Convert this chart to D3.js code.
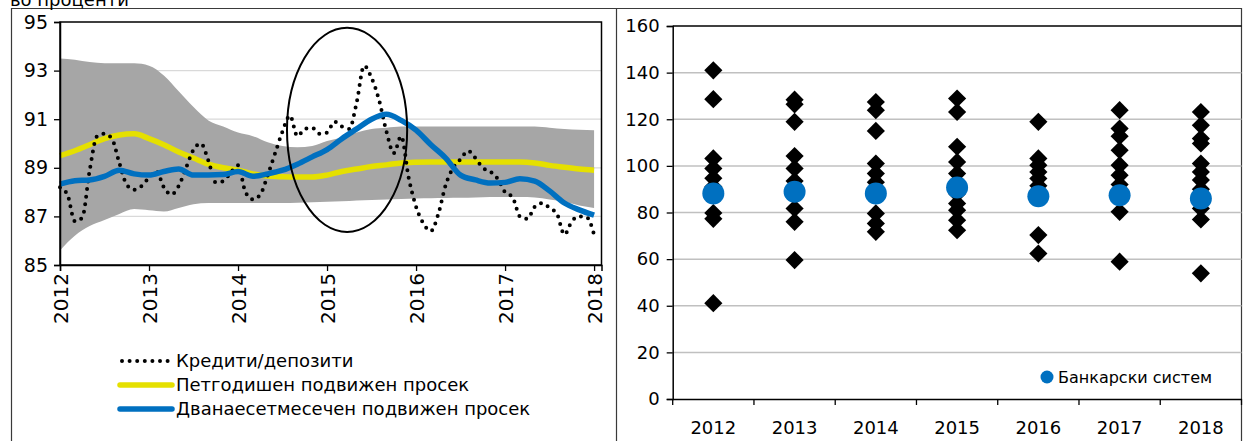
<!DOCTYPE html>
<html><head><meta charset="utf-8">
<script src="https://cdn.jsdelivr.net/npm/d3@7"></script>
<style>body{margin:0;background:#fff}svg{display:block;font-family:"DejaVu Sans",Verdana,sans-serif}</style>
</head><body>
<script>
// ---------- Left chart data (monthly, month index 0 = Jan 2012) ----------
const loanDeposit = [88.2,87.9,86.8,86.95,88.9,90.3,90.4,90.2,89.2,88.3,88.1,88.25,88.6,88.85,88.2,87.9,88.25,89.0,89.75,90.0,89.3,88.4,88.45,88.8,89.1,88.0,87.7,87.9,88.7,89.6,90.5,91.15,90.3,90.6,90.65,90.4,90.45,90.9,90.7,90.6,91.7,93.2,92.7,91.8,90.5,89.6,90.3,88.6,87.4,86.7,86.4,87.1,88.3,89.0,89.35,89.7,89.4,89.0,88.85,88.55,88.0,87.8,87.0,86.9,87.4,87.55,87.35,87.1,86.25,86.8,87.0,86.97,86.25];
// smooth series sampled every two months
const smoothMonths = [0,2,4,6,8,10,12,14,16,18,20,22,24,26,28,30,32,34,36,38,40,42,44,46,48,50,52,54,56,58,60,62,64,66,68,70,72];
const fiveYearAvg = [89.5,89.7,89.95,90.2,90.35,90.4,90.2,89.95,89.65,89.4,89.15,89.0,88.9,88.75,88.66,88.63,88.62,88.62,88.7,88.85,88.95,89.05,89.12,89.2,89.23,89.24,89.24,89.24,89.24,89.24,89.24,89.24,89.2,89.1,89.02,88.95,88.9];
const twelveMonthAvg = [88.33,88.47,88.5,88.65,88.9,88.75,88.7,88.85,88.95,88.7,88.7,88.72,88.85,88.65,88.75,88.9,89.15,89.45,89.75,90.2,90.6,91.0,91.2,90.95,90.55,89.95,89.4,88.7,88.5,88.37,88.4,88.55,88.45,88.05,87.55,87.27,87.05];
const bandUpper = [93.5,93.45,93.35,93.3,93.3,93.3,93.2,92.8,92.15,91.5,90.95,90.7,90.45,90.3,90.05,89.9,89.85,89.9,90.1,90.25,90.45,90.6,90.65,90.7,90.7,90.7,90.7,90.7,90.7,90.7,90.7,90.7,90.7,90.65,90.6,90.57,90.55];
const bandLower = [85.6,86.2,86.6,86.85,87.1,87.3,87.25,87.2,87.35,87.5,87.55,87.55,87.55,87.55,87.55,87.55,87.56,87.58,87.6,87.62,87.65,87.68,87.7,87.72,87.74,87.75,87.76,87.77,87.78,87.8,87.8,87.8,87.78,87.7,87.6,87.45,87.35];
const leftYTicks = [85,87,89,91,93,95];
const leftYearTicks = [2012,2013,2014,2015,2016,2017,2018];
const legendLabels = ["Кредити/депозити","Петгодишен подвижен просек","Дванаесетмесечен подвижен просек"];
const unitLabel = "во проценти";
// highlighted period (ellipse): centre month, centre value, half-width months, half-height value
const highlight = {month:38.7, value:90.56, rMonths:8.1, rValue:4.2};

// ---------- Right chart data ----------
const years = ["2012","2013","2014","2015","2016","2017","2018"];
const bankValues = {
  "2012":[141,128.6,103.2,98.9,94.7,91,88,79.8,77.3,41.1],
  "2013":[128.4,126.4,118.9,104.2,98.9,93.5,88,81.7,76,59.6],
  "2014":[127.4,123.9,115,101,96.7,93,89,79.6,75.3,71.7],
  "2015":[128.9,123.1,108.2,101.7,96.7,93,88,83.9,81,76.7,72.4],
  "2016":[118.9,103.2,100.3,97.4,94.6,91.5,88.5,70.3,62.4],
  "2017":[123.9,116,112.7,106.7,100.3,96,92,88,80.3,58.9],
  "2018":[123.1,117.4,111.7,109.6,101,97.4,93.9,90,81.7,77,53.9]
};
const systemValues = [88.2,88.9,88.2,90.7,87.0,87.4,86.0];
const rightYTicks = [0,20,40,60,80,100,120,140,160];
const rightLegend = "Банкарски систем";

const W=1243,H=441;
const svg=d3.select("body").append("svg").attr("width",W).attr("height",H);

// panel frames
const frame=svg.append("g").attr("stroke","#3a3a3a").attr("stroke-width",1.2).attr("fill","none");
frame.append("line").attr("x1",11).attr("x2",1242).attr("y1",8.5).attr("y2",8.5);
frame.append("line").attr("x1",11.5).attr("x2",11.5).attr("y1",8).attr("y2",H);
frame.append("line").attr("x1",616.5).attr("x2",616.5).attr("y1",8).attr("y2",H);
frame.append("line").attr("x1",1241.5).attr("x2",1241.5).attr("y1",8).attr("y2",H);

svg.append("text").attr("x",10).attr("y",6).attr("font-size",18).attr("fill","#000").text(unitLabel);

// ---------- LEFT ----------
const L={l:60,r:601.5,t:22,b:265};
const x=d3.scaleLinear().domain([0,73]).range([L.l,L.r]);
const y=d3.scaleLinear().domain([85,95]).range([L.b,L.t]);
const gL=svg.append("g");
gL.append("g").selectAll("line").data(leftYTicks.filter(v=>v>85&&v<95)).join("line")
  .attr("x1",L.l).attr("x2",L.r).attr("y1",d=>y(d)).attr("y2",d=>y(d))
  .attr("stroke","#d9d9d9").attr("stroke-width",1.3);

const bandData=smoothMonths.map((m,i)=>({m,u:bandUpper[i],l:bandLower[i]}));
gL.append("path").datum(bandData)
  .attr("d",d3.area().x(d=>x(d.m)).y0(d=>y(d.l)).y1(d=>y(d.u)).curve(d3.curveMonotoneX))
  .attr("fill","#a6a6a6");

const lineGen=d3.line().x(d=>x(d[0])).y(d=>y(d[1])).curve(d3.curveMonotoneX);
gL.append("path").datum(smoothMonths.map((m,i)=>[m,fiveYearAvg[i]]))
  .attr("d",lineGen).attr("fill","none").attr("stroke","#e5e000").attr("stroke-width",5.5);
gL.append("path").datum(loanDeposit.map((v,i)=>[i,v]))
  .attr("d",lineGen).attr("fill","none").attr("stroke","#000").attr("stroke-width",4)
  .attr("stroke-linecap","round").attr("stroke-dasharray","0 7.6");
gL.append("path").datum(smoothMonths.map((m,i)=>[m,twelveMonthAvg[i]]))
  .attr("d",lineGen).attr("fill","none").attr("stroke","#0070c0").attr("stroke-width",5.5);

// ellipse annotation
gL.append("ellipse")
  .attr("cx",x(highlight.month)).attr("cy",y(highlight.value))
  .attr("rx",x(highlight.month+highlight.rMonths)-x(highlight.month))
  .attr("ry",y(highlight.value-highlight.rValue)-y(highlight.value))
  .attr("fill","none").attr("stroke","#000").attr("stroke-width",2);

// plot frame
gL.append("rect").attr("x",L.l).attr("y",L.t).attr("width",L.r-L.l).attr("height",L.b-L.t)
  .attr("fill","none").attr("stroke","#000").attr("stroke-width",1.5);

const yAxL=gL.append("g").attr("transform",`translate(${L.l},0)`)
  .call(d3.axisLeft(y).tickValues(leftYTicks).tickSize(6).tickPadding(6).tickFormat(d3.format("d")));
const xAxL=gL.append("g").attr("transform",`translate(0,${L.b})`)
  .call(d3.axisBottom(x).tickValues(leftYearTicks.map(d=>(d-2012)*12)).tickSize(6).tickFormat((d,i)=>leftYearTicks[i]));
[yAxL,xAxL].forEach(a=>{a.select(".domain").attr("stroke","#000").attr("stroke-width",1.5);
  a.selectAll(".tick line").attr("stroke","#000").attr("stroke-width",1.3);
  a.selectAll("text").attr("font-size",19).attr("fill","#000").attr("font-family","DejaVu Sans");});
xAxL.selectAll(".tick text").attr("font-size",20).attr("transform","rotate(-90)").attr("text-anchor","end")
  .attr("x",-8).attr("y",0).attr("dy","0.36em");

// legend
const lg=svg.append("g").attr("transform","translate(120,361)");
const legendItems=[
  {stroke:"#000",w:4,dash:"0 7.6"},
  {stroke:"#e5e000",w:5.5,dash:null},
  {stroke:"#0070c0",w:5.5,dash:null}];
legendItems.forEach((it,i)=>{
  const g=lg.append("g").attr("transform",`translate(0,${i*24})`);
  g.append("line").attr("x1",i===0?2:0).attr("x2",52).attr("y1",0).attr("y2",0)
   .attr("stroke",it.stroke).attr("stroke-width",it.w).attr("stroke-linecap","round")
   .attr("stroke-dasharray",it.dash);
  g.append("text").attr("x",56).attr("y",0).attr("dy","0.35em").attr("font-size",18).text(legendLabels[i]);
});

// ---------- RIGHT ----------
const R={l:672.7,r:1241.5,t:26,b:399};
const xb=d3.scaleBand().domain(years).range([R.l,R.r]);
const yr=d3.scaleLinear().domain([0,160]).range([R.b,R.t]);
const gR=svg.append("g");
gR.append("g").selectAll("line").data(rightYTicks.filter(v=>v>0&&v<160)).join("line")
  .attr("x1",R.l).attr("x2",R.r).attr("y1",d=>yr(d)).attr("y2",d=>yr(d))
  .attr("stroke","#c0c0c0").attr("stroke-width",1.5);
gR.append("line").attr("x1",R.l).attr("x2",R.r).attr("y1",R.t).attr("y2",R.t).attr("stroke","#000").attr("stroke-width",1.5);

const diamond=d3.symbol().type(d3.symbolSquare).size(165);
const pts=[];years.forEach(yv=>bankValues[yv].forEach(v=>pts.push({yr:yv,v})));
gR.append("g").selectAll("path").data(pts).join("path")
  .attr("d",diamond)
  .attr("transform",d=>`translate(${xb(d.yr)+xb.bandwidth()/2},${yr(d.v)}) rotate(45)`)
  .attr("fill","#000");
gR.append("g").selectAll("circle").data(years).join("circle")
  .attr("cx",d=>xb(d)+xb.bandwidth()/2).attr("cy",(d,i)=>yr(systemValues[i])).attr("r",11)
  .attr("fill","#0070c0");

const yAxR=gR.append("g").attr("transform",`translate(${R.l},0)`)
  .call(d3.axisLeft(yr).tickValues(rightYTicks).tickSize(6).tickPadding(7));
const xAxR=gR.append("g").attr("transform",`translate(0,${R.b})`)
  .call(d3.axisBottom(xb).tickSize(0).tickPadding(22));
xAxR.append("g").selectAll("line").data(d3.range(years.length+1)).join("line")
  .attr("x1",i=>R.l+i*xb.step()).attr("x2",i=>R.l+i*xb.step()).attr("y1",0).attr("y2",6)
  .attr("stroke","#000").attr("stroke-width",1.3);
[yAxR,xAxR].forEach(a=>{a.select(".domain").attr("stroke","#000").attr("stroke-width",1.5);
  a.selectAll(".tick line").attr("stroke","#000").attr("stroke-width",1.3);
  a.selectAll("text").attr("font-size",18).attr("fill","#000").attr("font-family","DejaVu Sans");});

const rl=svg.append("g").attr("transform","translate(1047,377)");
rl.append("circle").attr("r",6.5).attr("fill","#0070c0");
rl.append("text").attr("x",11).attr("dy","0.35em").attr("font-size",16).text(rightLegend);
</script>
</body></html>
